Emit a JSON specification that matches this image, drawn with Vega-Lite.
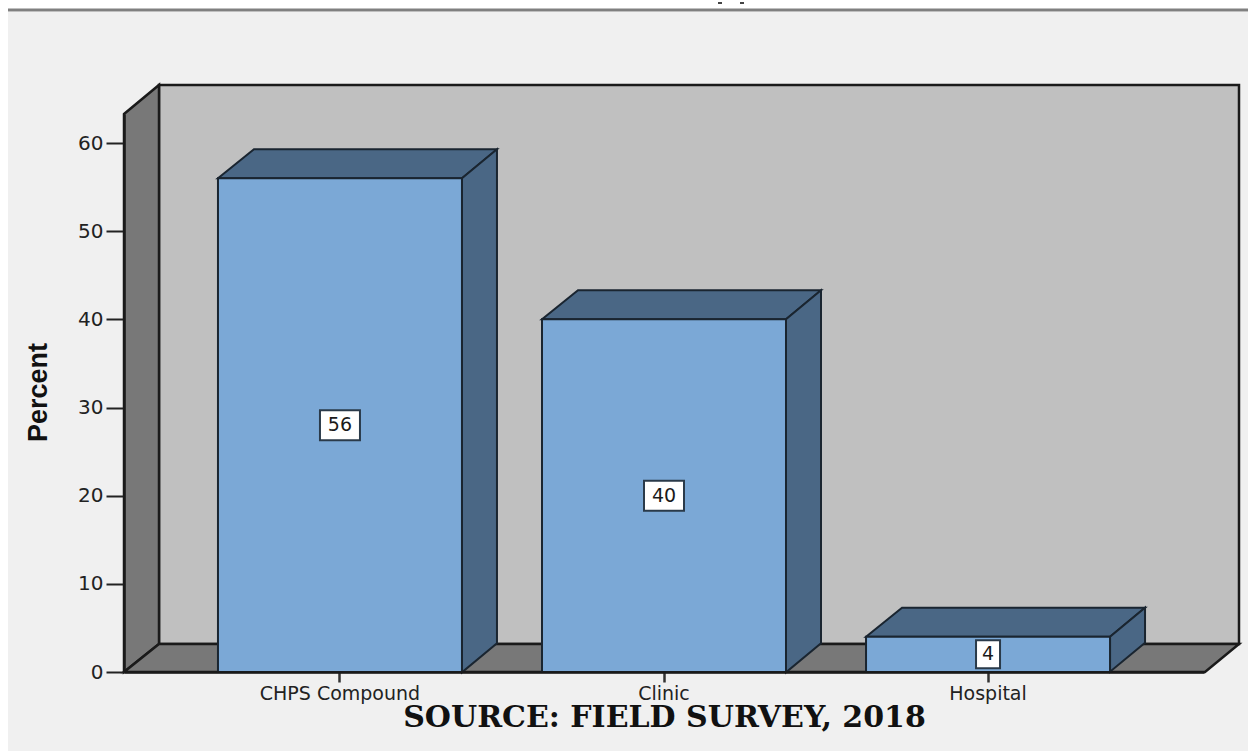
{
"$schema":"https://vega.github.io/schema/vega-lite/v6.json",
"width":1080,"height":558,
"autosize":{"type":"none"},
"padding":{"left":124,"top":114,"right":44,"bottom":79},
"background":"#ffffff",
"config":{"view":{"stroke":null}},
"resolve":{"scale":{"shape":"independent"}},
"data":{"values":[{"category":"CHPS Compound","percent":56},{"category":"Clinic","percent":40},{"category":"Hospital","percent":4}]},
"encoding":{
"x":{"field":"category","type":"nominal",
 "scale":{"type":"band","domain":["CHPS Compound","Clinic","Hospital"],"paddingInner":0.247,"paddingOuter":0.29},
 "axis":{"zindex":1,"labelAngle":0,"labelFont":"DejaVu Sans","labelFontSize":19,"labelColor":"#222222","labelPadding":2,"tickSize":10,"tickWidth":2.5,"tickColor":"#333333","domainColor":"#1a1a1a","domainWidth":2.5,"grid":false,
  "title":"SOURCE: FIELD SURVEY, 2018","titleFont":"DejaVu Serif","titleFontWeight":"bold","titleFontSize":30,"titleColor":"#111111","titleY":54,"titleBaseline":"alphabetic"}},
"y":{"field":"percent","type":"quantitative",
 "scale":{"domain":[0,63.29],"nice":false},
 "axis":{"zindex":1,"values":[0,10,20,30,40,50,60],"labelFont":"DejaVu Sans","labelFontSize":20,"labelColor":"#222222","labelPadding":3,"tickSize":18,"tickWidth":2,"tickColor":"#222222","domainColor":"#1a1a1a","domainWidth":2.5,"grid":false,
  "title":"Percent","titleFont":"Liberation Sans","titleFontWeight":"bold","titleFontSize":27,"titleColor":"#111111","titleX":-78,"titleY":278,"titleBaseline":"alphabetic","titleAngle":-90,"titleAlign":"center"}}
},
"layer":[
{"data":{"values":[{"category":"Clinic","percent":0}]},"mark":{"type":"point","filled":true,"size":4,"opacity":1,"fill":"#f0f0f0","stroke":null,"shape":"M-656,-660L640,-660L640,90L-656,90Z"}},
{"data":{"values":[{"category":"Clinic","percent":0}]},"mark":{"type":"point","filled":false,"size":4,"opacity":1,"stroke":"#808080","strokeWidth":3,"shape":"M-656,-662L640,-662"}},
{"data":{"values":[{"category":"Clinic","percent":0}]},"mark":{"type":"point","filled":false,"size":4,"opacity":1,"stroke":"#444444","strokeWidth":2,"shape":"M54,-669L58,-669M76,-669L80,-669"}},
{"data":{"values":[{"category":"Clinic","percent":0}]},"mark":{"type":"point","filled":true,"size":4,"opacity":1,"fill":"#c0c0c0","stroke":"#1a1a1a","strokeWidth":2.5,"shape":"M-505,-587L575,-587L575,-28L-505,-28Z"}},
{"data":{"values":[{"category":"Clinic","percent":0}]},"mark":{"type":"point","filled":true,"size":4,"opacity":1,"fill":"#787878","stroke":"#1a1a1a","strokeWidth":2.5,"shape":"M-540,-558L-505,-587L-505,-28L-540,0Z"}},
{"data":{"values":[{"category":"Clinic","percent":0}]},"mark":{"type":"point","filled":true,"size":4,"opacity":1,"fill":"#787878","stroke":"#1a1a1a","strokeWidth":2.5,"shape":"M-540,0L-505,-28L575,-28L541,0Z"}},
{"mark":{"type":"point","filled":true,"size":4,"opacity":1,"fill":"#4a6785","stroke":"#1a2530","strokeWidth":2,"shape":"M-122,0L-86,-29L157,-29L122,0Z"}},
{"mark":{"type":"point","filled":true,"size":4,"opacity":1,"fill":"#4a6785","stroke":"#1a2530","strokeWidth":2},
 "encoding":{"shape":{"field":"category","type":"nominal","legend":null,"scale":{"domain":["CHPS Compound","Clinic","Hospital"],"range":["M122,0L157,-29L157,465L122,494Z","M122,0L157,-29L157,324L122,353Z","M122,0L157,-29L157,6L122,35Z"]}}}},
{"mark":{"type":"bar","fill":"#7ba8d6","stroke":"#1a2530","strokeWidth":2,"opacity":1}},
{"transform":[{"calculate":"datum.percent/2","as":"middle"}],
 "mark":{"type":"point","filled":true,"size":4,"opacity":1,"fill":"#ffffff","stroke":"#2a3a4a","strokeWidth":2},
 "encoding":{"y":{"field":"middle","type":"quantitative"},
  "shape":{"field":"category","type":"nominal","legend":null,"scale":{"domain":["CHPS Compound","Clinic","Hospital"],"range":["M-20,-15L20,-15L20,15L-20,15Z","M-20,-15L20,-15L20,15L-20,15Z","M-12,-14L12,-14L12,14L-12,14Z"]}}}},
{"transform":[{"calculate":"datum.percent/2","as":"middle"}],
 "mark":{"type":"text","font":"DejaVu Sans","fontSize":19,"color":"#1a1a1a","baseline":"middle"},
 "encoding":{"y":{"field":"middle","type":"quantitative"},"text":{"field":"percent","type":"quantitative"}}}
]
}
